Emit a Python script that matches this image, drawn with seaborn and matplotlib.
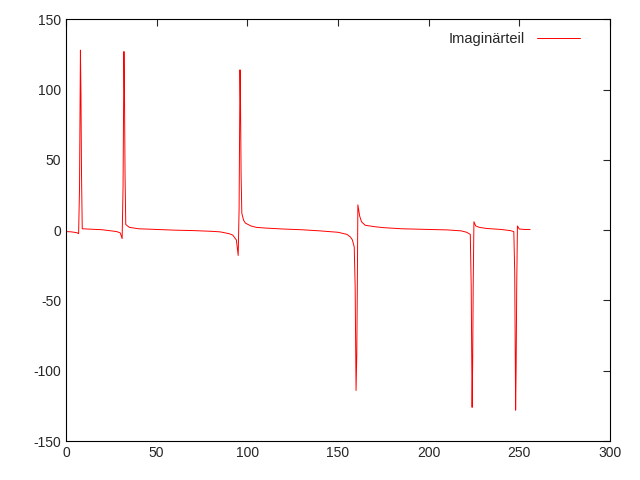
import matplotlib
matplotlib.use("Agg")
import matplotlib.pyplot as plt
import seaborn as sns
import pandas as pd

# sample index and imaginary part
x_vals = [0, 3, 6, 7, 7.5, 8, 8.3, 8.6, 9, 12, 20, 28, 30, 31, 31.5, 32, 32.3, 32.6, 33, 35, 40, 50,
          60, 70, 80, 85, 90, 92, 94, 95, 95.5, 96, 96.3, 96.6, 97, 98, 99, 102, 105, 110, 120, 130,
          140, 150, 155, 157, 158, 159, 159.5, 160, 160.4, 160.7, 161, 162, 163, 165, 170, 175, 185,
          200, 210, 218, 221, 223, 223.5, 224, 224.3, 224.6, 225, 226, 228, 232, 240, 245, 247, 247.5,
          248, 248.3, 248.6, 249, 250, 253, 256]
imag_vals = [-1, -1.2, -1.8, -2.5, 30, 128, 95, 40, 1, 0.8, 0.3, -1, -2, -6, 30, 127, 96, 40, 4, 2, 1, 0.5,
             0, -0.3, -0.8, -1.2, -2.5, -3.5, -7, -18, 15, 114, 88, 40, 12, 7, 5, 3, 2, 1.5, 0.8, 0.3,
             -0.5, -1.5, -3, -5, -7, -12, -40, -114, -88, -40, 18, 10, 6, 3.5, 2.5, 1.8, 1,
             0.5, 0.2, -0.5, -1.5, -3, -40, -126, -95, -40, 6, 3, 2, 1.2, 0.5, -0.3, -1, -30,
             -128, -95, -40, 3, 0.8, 0.5, 0.5]

df = pd.DataFrame({"n": x_vals, "im": imag_vals})

sns.set_style("white")
plt.rcParams["font.family"] = ["Liberation Sans", "DejaVu Sans"]
plt.rcParams["axes.unicode_minus"] = False

fig, ax = plt.subplots(figsize=(6.4, 4.8), dpi=100)
sns.lineplot(data=df, x="n", y="im", color="red", linewidth=0.7, sort=False,
             estimator=None, label="Imaginärteil", ax=ax)

ax.set_xlim(0, 300)
ax.set_ylim(-150, 150)
ax.set_xticks(range(0, 301, 50))
ax.set_yticks(range(-150, 151, 50))
ax.set_xlabel("")
ax.set_ylabel("")
ax.tick_params(direction="in", top=True, right=True, length=5, labelsize=10)
for s in ax.spines.values():
    s.set_color("black")
    s.set_linewidth(0.8)
ax.legend(loc="upper right", frameon=False, markerfirst=False, fontsize=10.5,
          handlelength=3, bbox_to_anchor=(0.97, 1.0))

plt.subplots_adjust(left=0.103, right=0.953, top=0.96, bottom=0.081)
plt.savefig("out.png", dpi=100)
